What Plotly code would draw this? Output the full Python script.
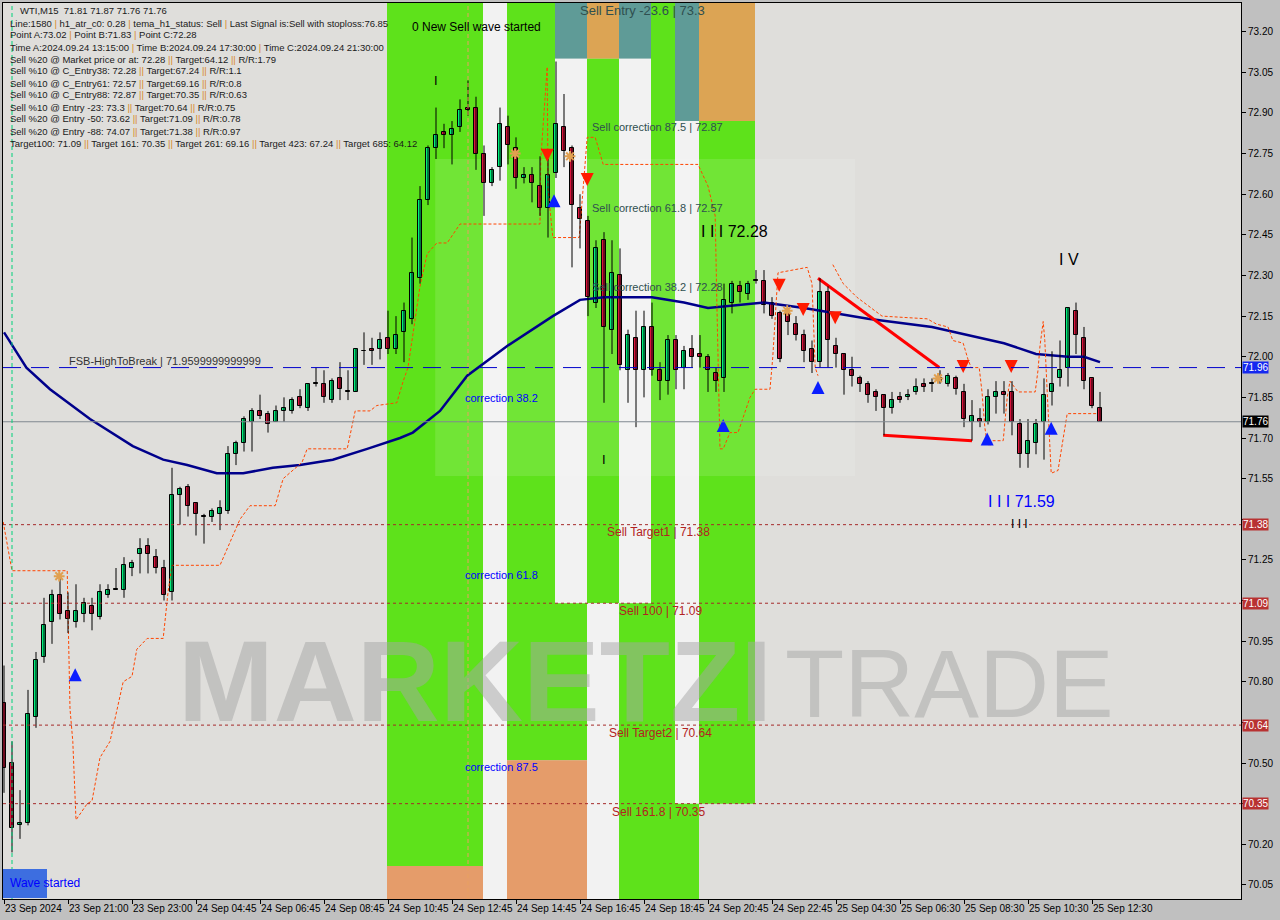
import plotly.graph_objects as go

# ---------------- data ----------------
bar_index = list(range(138))
opens = [70.72, 70.50, 70.27, 70.28, 70.67, 70.89, 71.02, 71.12, 71.06, 71.02,
         71.05, 71.08, 71.04, 71.12, 71.14, 71.14, 71.22, 71.27, 71.30, 71.26,
         71.22, 71.13, 71.49, 71.52, 71.46, 71.41, 71.41, 71.42, 71.43, 71.64,
         71.68, 71.76, 71.80, 71.79, 71.76, 71.80, 71.80, 71.85, 71.81, 71.90,
         71.90, 71.84, 71.92, 71.87, 71.87, 72.02, 72.03, 72.03, 72.07, 72.03,
         72.09, 72.14, 72.29, 72.58, 72.77, 72.83, 72.82, 72.85, 72.92, 72.92,
         72.75, 72.64, 72.70, 72.85, 72.77, 72.66, 72.67, 72.63, 72.55, 72.68,
         72.85, 72.77, 72.55, 72.50, 72.20, 72.43, 72.10, 72.30, 71.95, 72.07,
         71.95, 72.11, 71.95, 71.91, 72.06, 71.96, 72.03, 72.01, 72.00, 71.94,
         71.92, 72.20, 72.26, 72.23, 72.28, 72.28, 72.20, 72.16, 72.16, 72.12,
         72.08, 72.03, 71.98, 72.24, 72.04, 72.01, 71.95, 71.92, 71.90, 71.87,
         71.86, 71.81, 71.85, 71.85, 71.87, 71.90, 71.90, 71.92, 71.90, 71.92,
         71.87, 71.76, 71.77, 71.76, 71.85, 71.87, 71.87, 71.75, 71.64, 71.68,
         71.76, 71.87, 71.92, 71.96, 72.17, 72.07, 71.92, 71.81]
highs = [70.86, 70.58, 70.40, 70.77, 70.91, 71.11, 71.14, 71.19, 71.13, 71.16,
         71.11, 71.11, 71.16, 71.16, 71.22, 71.26, 71.25, 71.33, 71.33, 71.29,
         71.25, 71.59, 71.52, 71.53, 71.46, 71.42, 71.44, 71.47, 71.67, 71.69,
         71.78, 71.81, 71.86, 71.80, 71.82, 71.85, 71.85, 71.88, 71.90, 71.96,
         71.95, 71.92, 71.98, 71.95, 72.03, 72.09, 72.07, 72.09, 72.17, 72.15,
         72.20, 72.44, 72.63, 72.78, 72.92, 72.86, 72.87, 72.95, 73.02, 72.96,
         72.78, 72.70, 72.92, 72.89, 72.81, 72.70, 72.70, 72.74, 72.73, 73.09,
         72.97, 72.78, 72.60, 72.52, 72.43, 72.46, 72.43, 72.40, 72.10, 72.17,
         72.17, 72.20, 71.98, 72.08, 72.08, 72.04, 72.08, 72.08, 72.01, 71.96,
         72.27, 72.28, 72.28, 72.28, 72.32, 72.32, 72.22, 72.17, 72.18, 72.15,
         72.10, 72.06, 72.29, 72.26, 72.07, 72.01, 72.00, 71.93, 71.91, 71.88,
         71.86, 71.87, 71.87, 71.88, 71.92, 71.92, 71.92, 71.95, 71.94, 71.93,
         71.90, 71.84, 71.81, 71.88, 71.91, 71.91, 71.91, 71.77, 71.77, 71.77,
         71.92, 72.02, 72.06, 72.18, 72.20, 72.11, 71.92, 71.87]
lows = [70.39, 70.17, 70.22, 70.27, 70.63, 70.87, 70.94, 71.03, 70.98, 71.00,
        71.02, 70.99, 71.03, 71.11, 71.14, 71.11, 71.19, 71.20, 71.20, 71.20,
        71.10, 71.10, 71.38, 71.41, 71.34, 71.31, 71.39, 71.36, 71.42, 71.60,
        71.65, 71.65, 71.77, 71.72, 71.76, 71.76, 71.79, 71.81, 71.80, 71.89,
        71.83, 71.83, 71.84, 71.84, 71.87, 71.97, 71.97, 71.99, 72.01, 72.01,
        71.98, 72.12, 72.27, 72.56, 72.73, 72.77, 72.71, 72.83, 72.89, 72.69,
        72.52, 72.63, 72.65, 72.71, 72.62, 72.64, 72.57, 72.52, 72.44, 72.66,
        72.70, 72.33, 72.40, 72.15, 72.18, 71.83, 72.01, 71.95, 71.83, 71.74,
        71.85, 71.93, 71.84, 71.86, 71.88, 71.88, 71.96, 71.96, 71.87, 71.87,
        71.87, 72.16, 72.20, 72.21, 72.27, 72.16, 72.14, 71.98, 72.08, 72.06,
        71.98, 71.94, 71.96, 71.96, 71.96, 71.86, 71.89, 71.87, 71.83, 71.80,
        71.71, 71.79, 71.83, 71.84, 71.86, 71.87, 71.87, 71.90, 71.89, 71.86,
        71.74, 71.69, 71.74, 71.75, 71.79, 71.79, 71.71, 71.59, 71.59, 71.64,
        71.62, 71.82, 71.89, 71.89, 72.01, 71.88, 71.81, 71.76]
closes = [70.48, 70.26, 70.28, 70.68, 70.88, 71.01, 71.12, 71.05, 71.03, 71.06,
          71.09, 71.05, 71.13, 71.14, 71.14, 71.23, 71.24, 71.29, 71.27, 71.22,
          71.12, 71.49, 71.51, 71.45, 71.42, 71.41, 71.43, 71.44, 71.64, 71.68,
          71.77, 71.80, 71.78, 71.75, 71.80, 71.81, 71.84, 71.82, 71.90, 71.90,
          71.85, 71.91, 71.88, 71.87, 72.03, 72.02, 72.02, 72.06, 72.03, 72.08,
          72.17, 72.31, 72.58, 72.77, 72.82, 72.82, 72.84, 72.91, 72.91, 72.75,
          72.64, 72.69, 72.86, 72.78, 72.66, 72.67, 72.64, 72.55, 72.67, 72.86,
          72.76, 72.56, 72.51, 72.22, 72.40, 72.11, 72.31, 71.97, 72.08, 71.95,
          72.11, 71.95, 71.91, 72.06, 71.95, 72.02, 72.00, 72.00, 71.95, 71.91,
          72.21, 72.27, 72.24, 72.27, 72.28, 72.19, 72.15, 71.99, 72.13, 72.08,
          72.02, 71.98, 72.24, 72.06, 72.01, 71.95, 71.93, 71.90, 71.86, 71.85,
          71.81, 71.84, 71.84, 71.86, 71.89, 71.89, 71.90, 71.91, 71.93, 71.88,
          71.77, 71.78, 71.76, 71.85, 71.87, 71.86, 71.76, 71.64, 71.69, 71.75,
          71.86, 71.90, 71.95, 72.18, 72.08, 71.91, 71.82, 71.76]

x_tick_bars = [0, 8, 16, 24, 32, 40, 48, 56, 64, 72, 80, 88, 96, 104, 112, 120, 128, 136]
x_tick_labels = ["23 Sep 2024", "23 Sep 21:00", "23 Sep 23:00", "24 Sep 04:45", "24 Sep 06:45",
                 "24 Sep 08:45", "24 Sep 10:45", "24 Sep 12:45", "24 Sep 14:45", "24 Sep 16:45",
                 "24 Sep 18:45", "24 Sep 20:45", "24 Sep 22:45", "25 Sep 04:30", "25 Sep 06:30",
                 "25 Sep 08:30", "25 Sep 10:30", "25 Sep 12:30"]
y_tick_values = [73.20, 73.05, 72.90, 72.75, 72.60, 72.45, 72.30, 72.15, 72.00, 71.85,
                 71.70, 71.55, 71.40, 71.25, 71.10, 70.95, 70.80, 70.65, 70.50, 70.35,
                 70.20, 70.05]
# tick labels hidden under the price boxes in the reference
y_tick_hidden = [71.40, 71.10, 70.65, 70.35]

ma_bars = [0, 2.8, 5.75, 10.75, 16.1, 19.9, 22.9, 26.6, 29.9, 33.6, 37, 41.1, 45.4, 49.5,
           51.1, 54.5, 57.9, 62.9, 68.6, 72, 75, 81, 85, 88, 95, 100, 108, 116, 125, 129,
           133, 135, 137]
ma_values = [72.09, 71.96, 71.88, 71.77, 71.67, 71.62, 71.60, 71.57, 71.57, 71.59, 71.60,
             71.62, 71.66, 71.70, 71.72, 71.80, 71.93, 72.04, 72.15, 72.21, 72.22, 72.22,
             72.20, 72.18, 72.20, 72.18, 72.14, 72.11, 72.05, 72.01, 72.00, 72.00, 71.98]

stop_bars = [-0.1, 1.0, 7.9, 8.25, 8.6, 9.0, 10.4, 11.0, 12.0, 13.25, 14.9, 16.0, 16.6, 17.9,
             19.9, 20.5, 21.0, 27.0, 29.5, 30.75, 33.9, 34.9, 37.25, 37.9, 42.9, 43.9, 45.75,
             46.6, 49.1, 49.9, 50.5, 51.6, 52.0, 52.9, 54.1, 55.4, 57.0, 67.0, 67.1, 67.9,
             68.0, 68.6, 71.9, 72.9, 73.9, 74.9, 86.75, 88.0, 88.9, 89.1, 89.5, 89.9, 90.75,
             91.75, 93.25, 93.9, 95.75, 96.1, 96.75, 100.4, 101.0, 101.4, 101.75, None,
             103.6, 104.9, 106.6, 109.75, 115.4, 116.6, 118.0, 118.6, 119.9, 120.5, 120.9,
             121.9, 122.25, 122.6, 122.9, 123.25, 123.6, 124.9, 125.4, 125.75, 126.75,
             128.9, 129.25, 129.5, 129.9, 130.1, 130.4, 130.75, 130.9, 131.75, 132.25,
             132.6, 132.9, 136.75]
stop_values = [71.39, 71.21, 71.21, 70.70, 70.58, 70.29, 70.35, 70.36, 70.52, 70.58, 70.80,
               70.82, 70.92, 70.96, 70.96, 71.13, 71.23, 71.23, 71.40, 71.45, 71.45, 71.55,
               71.61, 71.66, 71.66, 71.80, 71.80, 71.82, 71.83, 71.91, 71.96, 72.19, 72.26,
               72.38, 72.42, 72.42, 72.49, 72.49, 72.73, 73.07, 72.62, 72.44, 72.44, 72.81,
               72.81, 72.71, 72.71, 72.63, 72.52, 72.21, 71.66, 71.66, 71.72, 71.72, 71.85,
               71.88, 71.88, 72.00, 72.31, 72.33, 72.27, 71.96, 71.93, None,
               72.34, 72.27, 72.22, 72.15, 72.14, 72.12, 72.11, 72.06, 72.05, 71.99, 71.96,
               71.96, 71.87, 71.74, 71.68, 71.67, 71.69, 71.69, 71.85, 71.91, 71.87, 71.87,
               71.95, 72.04, 72.13, 72.06, 71.87, 71.69, 71.57, 71.58, 71.67, 71.74, 71.79,
               71.79]

zigzag1_bars = [101.75, 116.9]
zigzag1_values = [72.29, 71.96]
zigzag2_bars = [109.9, 121.0]
zigzag2_values = [71.71, 71.69]

sell_arrow_bars = [67.9, 72.9, 96.9, 99.9, 103.9, 119.9, 125.9]
sell_arrow_prices = [72.72, 72.63, 72.24, 72.15, 72.12, 71.94, 71.94]
buy_arrow_bars = [8.9, 68.75, 89.9, 101.75, 122.9, 130.9]
buy_arrow_prices = [70.85, 72.60, 71.77, 71.91, 71.72, 71.76]
star_bars = [6.9, 63.9, 70.75, 97.9, 116.75]
star_prices = [71.19, 72.75, 72.74, 72.17, 71.92]

fsb_level = 71.96
last_price = 71.76
target_levels = [71.38, 71.09, 70.64, 70.35]
target_names = ["Sell Target1 | 71.38", "Sell 100 | 71.09", "Sell Target2 | 70.64", "Sell 161.8 | 70.35"]
point_a_bar = 58
signal_bar = 1

# zones: (bar_from, bar_to, price_from, price_to, kind)
TOP, BOT = 73.306, 69.998
zones = [
    (47.875, 59.875, 70.12, TOP, "green"), (47.875, 59.875, BOT, 70.12, "orange"),
    (59.875, 62.875, BOT, TOP, "white"),
    (62.875, 68.875, 70.51, TOP, "green"), (62.875, 68.875, BOT, 70.51, "orange"),
    (68.875, 72.875, 73.10, TOP, "teal"), (68.875, 72.875, 71.09, 73.10, "white"),
    (68.875, 72.875, 70.51, 71.09, "green"), (68.875, 72.875, BOT, 70.51, "orange"),
    (72.875, 76.875, 73.10, TOP, "orange2"), (72.875, 76.875, 71.09, 73.10, "green"),
    (72.875, 76.875, BOT, 71.09, "white"),
    (76.875, 80.875, 73.10, TOP, "teal"), (76.875, 80.875, 71.09, 73.10, "white"),
    (76.875, 80.875, BOT, 71.09, "green"),
    (80.875, 83.875, BOT, TOP, "green"),
    (83.875, 86.875, 72.87, TOP, "teal"), (83.875, 86.875, 70.35, 72.87, "white"),
    (83.875, 86.875, BOT, 70.35, "green"),
    (86.875, 93.875, 72.87, TOP, "orange2"), (86.875, 93.875, 70.35, 72.87, "green"),
]
zone_colors = {"green": "#5ee21b", "orange": "#e59c6a", "orange2": "#dca454",
               "teal": "#5f9b97", "white": "#f2f2f2"}

info_lines = [
    "WTI,M15  71.81 71.87 71.76 71.76",
    "Line:1580 | h1_atr_c0: 0.28 | tema_h1_status: Sell | Last Signal is:Sell with stoploss:76.85",
    "Point A:73.02 | Point B:71.83 | Point C:72.28",
    "Time A:2024.09.24 13:15:00 | Time B:2024.09.24 17:30:00 | Time C:2024.09.24 21:30:00",
    "Sell %20 @ Market price or at: 72.28 || Target:64.12 || R/R:1.79",
    "Sell %10 @ C_Entry38: 72.28 || Target:67.24 || R/R:1.1",
    "Sell %10 @ C_Entry61: 72.57 || Target:69.16 || R/R:0.8",
    "Sell %10 @ C_Entry88: 72.87 || Target:70.35 || R/R:0.63",
    "Sell %10 @ Entry -23: 73.3 || Target:70.64 || R/R:0.75",
    "Sell %20 @ Entry -50: 73.62 || Target:71.09 || R/R:0.78",
    "Sell %20 @ Entry -88: 74.07 || Target:71.38 || R/R:0.97",
    "Target100: 71.09 || Target 161: 70.35 || Target 261: 69.16 || Target 423: 67.24 || Target 685: 64.12",
]

# ---------------- figure ----------------
L, R, T, B = 3, 1241, 3, 899
def PX(x):
    return (x - L) / (R - L)
def PY(y):
    return (B - y) / (B - T)

fig = go.Figure()
shapes = []
for k0, k1, p0, p1, kind in zones:
    shapes.append(dict(type="rect", xref="x", yref="y", x0=k0, x1=k1, y0=p0, y1=p1,
                       fillcolor=zone_colors[kind], line=dict(width=0), layer="below"))
# light logo overlay
shapes.append(dict(type="rect", xref="x", yref="y", x0=53.9, x1=106.4, y0=71.56, y1=72.73,
                   fillcolor="rgba(255,255,255,0.12)", line=dict(width=0), layer="below"))
# level lines
shapes.append(dict(type="line", xref="paper", yref="y", x0=0, x1=1, y0=fsb_level, y1=fsb_level,
                   line=dict(color="#0000cd", width=1, dash="18px,10px")))
shapes.append(dict(type="line", xref="paper", yref="y", x0=0, x1=1, y0=last_price, y1=last_price,
                   line=dict(color="#808890", width=1)))
for lv in target_levels:
    shapes.append(dict(type="line", xref="paper", yref="y", x0=0, x1=1, y0=lv, y1=lv,
                       line=dict(color="#a52a2a", width=1, dash="3px,3px")))
shapes.append(dict(type="line", xref="x", yref="paper", x0=signal_bar, x1=signal_bar, y0=0, y1=1,
                   line=dict(color="#00d27a", width=1, dash="4px,3px")))
shapes.append(dict(type="line", xref="x", yref="paper", x0=point_a_bar, x1=point_a_bar, y0=0, y1=1,
                   line=dict(color="#e8a060", width=1, dash="4px,3px")))
# wave started box
shapes.append(dict(type="rect", xref="paper", yref="paper", x0=PX(3), x1=PX(47), y0=PY(898), y1=PY(869),
                   fillcolor="#3d6ee0", line=dict(width=0)))

# MA line
fig.add_trace(go.Scatter(x=ma_bars, y=ma_values, mode="lines", line=dict(color="#00008b", width=2.5),
                         hoverinfo="skip"))
# stop / trailing dashed
fig.add_trace(go.Scatter(x=stop_bars, y=stop_values, mode="lines", connectgaps=False,
                         line=dict(color="#ff4500", width=1, dash="3px,2px"), hoverinfo="skip"))
# zigzag
fig.add_trace(go.Scatter(x=zigzag1_bars, y=zigzag1_values, mode="lines", line=dict(color="#ff0000", width=3)))
fig.add_trace(go.Scatter(x=zigzag2_bars, y=zigzag2_values, mode="lines", line=dict(color="#ff0000", width=3)))

# candles: wicks
wx, wy = [], []
for k, h, l in zip(bar_index, highs, lows):
    wx += [k, k, None]
    wy += [l, h, None]
fig.add_trace(go.Scatter(x=wx, y=wy, mode="lines", line=dict(color="black", width=1), hoverinfo="skip"))
# candles: bodies
body_base = [min(o, c) for o, c in zip(opens, closes)]
body_h = [max(abs(c - o), 0.003) for o, c in zip(opens, closes)]
body_col = ["#00f07c" if c > o else ("#dc143c" if c < o else "#000000") for o, c in zip(opens, closes)]
fig.add_trace(go.Bar(x=bar_index, y=body_h, base=body_base, width=0.62,
                     marker=dict(color=body_col, line=dict(color="black", width=1))))

# arrows and stars
fig.add_trace(go.Scatter(x=sell_arrow_bars, y=sell_arrow_prices, mode="markers",
                         marker=dict(symbol="arrow-down", size=13, color="#ff1a00", line=dict(width=0))))
fig.add_trace(go.Scatter(x=buy_arrow_bars, y=buy_arrow_prices, mode="markers",
                         marker=dict(symbol="arrow-up", size=13, color="#0a1eff", line=dict(width=0))))
fig.add_trace(go.Scatter(x=star_bars, y=star_prices, mode="markers",
                         marker=dict(symbol="asterisk-open", size=9, color="#e0a050",
                                     line=dict(color="#e0a050", width=2))))

ann = []
def text(t, x, y, color="black", size=11, anchor="left", family="Liberation Sans", weight=None):
    f = dict(family=family, size=size, color=color)
    if weight:
        f["weight"] = weight
    ann.append(dict(text=t, x=PX(x), y=PY(y), xref="paper", yref="paper", xanchor=anchor,
                    yanchor="middle", showarrow=False, font=f))

# watermark
text("MARKETZI", 176, 681, color="rgba(165,165,165,0.5)", size=115, weight="bold")
text("TRADE", 783, 683, color="rgba(165,165,165,0.5)", size=97, family="Liberation Sans")

# info block
sep = '<span style="color:#d98a2b">%s</span>'
for i, line in enumerate(info_lines):
    t = line.replace("||", "\x00").replace("|", sep % "|").replace("\x00", sep % "||")
    text(t, 18 if i == 0 else 8, 11 + i * 12.0, color="#1a1a1a", size=9.5)

text("0 New Sell wave started", 410, 27, size=12)
text("Sell Entry -23.6 | 73.3", 578, 11, color="#2f4f4f", size=13)
text("Sell correction 87.5 | 72.87", 590, 127, color="#2f4f4f", size=11)
text("Sell correction 61.8 | 72.57", 590, 208, color="#2f4f4f", size=11)
text("Sell correction 38.2 | 72.28", 590, 287, color="#2f4f4f", size=11)
text("I I I 72.28", 699, 231, size=16)
text("correction 38.2", 463, 398, color="#0000ff", size=11)
text("correction 61.8", 463, 575, color="#0000ff", size=11)
text("correction 87.5", 463, 767, color="#0000ff", size=11)
for name, xx, yy in zip(target_names, [605, 617, 607, 610], [532, 611, 733, 812]):
    text(name, xx, yy, color="#b22222", size=12)
text("I V", 1057, 259, size=16)
text("I I I 71.59", 986, 501, color="#0000ff", size=16)
text("I I I", 1009, 524, size=12)
text("FSB-HighToBreak | 71.9599999999999", 67, 361, color="#333333", size=11)
text("I", 432, 80, size=13)
text("I", 600, 459, size=13)
text("Wave started", 8, 883, color="#0000ff", size=12)

# right-axis price boxes
def price_box(val, bg):
    ann.append(dict(text="%.2f" % val, x=1.0, y=val, xref="paper", yref="y", xanchor="left",
                    yanchor="middle", xshift=1, showarrow=False, bgcolor=bg, borderpad=0,
                    font=dict(family="Liberation Sans", size=10, color="white")))
price_box(fsb_level, "#1428f0")
price_box(last_price, "#000000")
for lv in target_levels:
    price_box(lv, "#b83232")

y_tick_text = ["" if v in y_tick_hidden else "%.2f" % v for v in y_tick_values]

fig.update_layout(
    width=1280, height=920,
    margin=dict(l=L, r=1280 - R, t=T, b=920 - B, autoexpand=False),
    paper_bgcolor="#c0c0c0", plot_bgcolor="#dfdedb",
    showlegend=False, barmode="overlay", bargap=0,
    shapes=shapes, annotations=ann,
    xaxis=dict(range=[-0.125, 154.625], showgrid=False, zeroline=False, automargin=False,
               tickvals=x_tick_bars, ticktext=x_tick_labels, ticks="outside", ticklen=4,
               tickangle=0, tickcolor="black", ticklabelposition="outside right",
               tickfont=dict(family="Liberation Sans", size=10, color="black"),
               showline=True, linecolor="black", linewidth=1, mirror=True),
    yaxis=dict(range=[BOT, TOP], side="right", showgrid=False, zeroline=False, automargin=False,
               tickvals=y_tick_values, ticktext=y_tick_text,
               ticks="outside", ticklen=4, tickcolor="black",
               tickfont=dict(family="Liberation Sans", size=10, color="black"),
               showline=True, linecolor="black", linewidth=1, mirror=True),
)

fig.write_html("out.html", config={"displayModeBar": False},
               post_script="document.body.style.margin='0';")
